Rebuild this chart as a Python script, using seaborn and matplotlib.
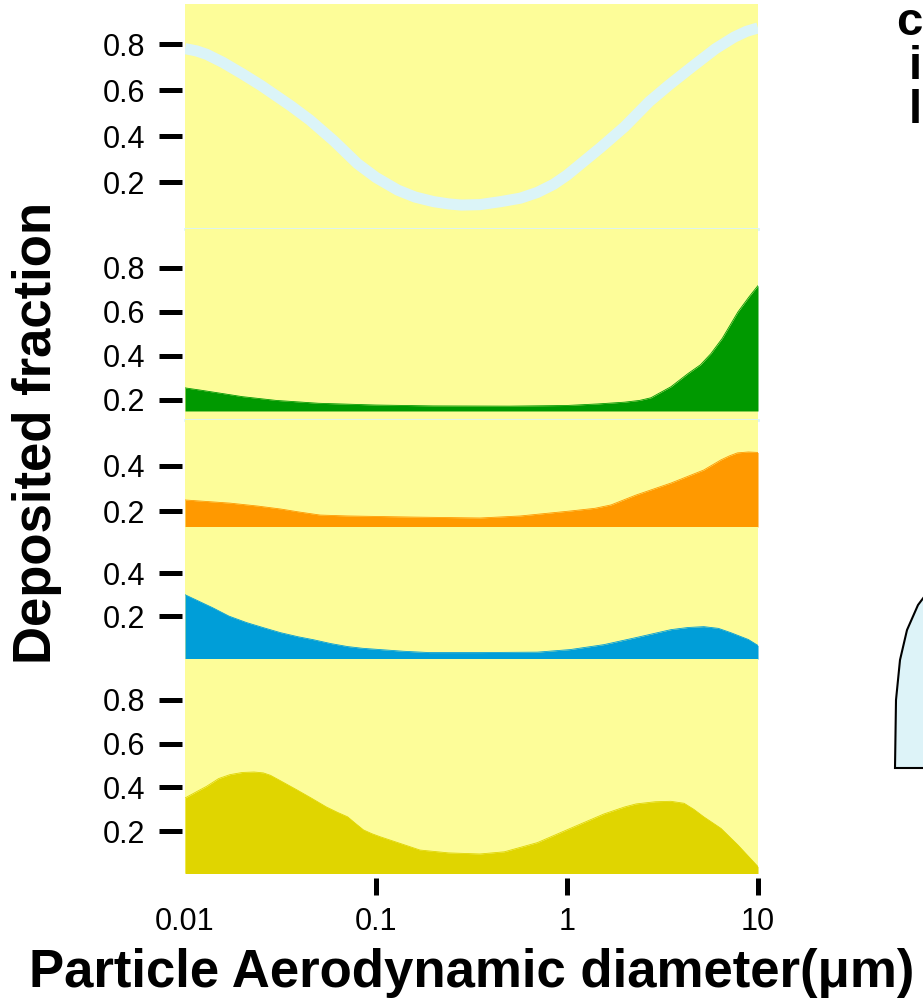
import matplotlib
matplotlib.use('Agg')
import matplotlib.pyplot as plt
import seaborn as sns
import pandas as pd
from matplotlib.patches import PathPatch
from matplotlib.path import Path

# ---- data (diameter in um, deposited fraction) ----
total_d = [0.01, 0.0115, 0.013, 0.0158, 0.02, 0.025, 0.03, 0.036, 0.045, 0.06, 0.08, 0.1,
           0.13, 0.16, 0.2, 0.24, 0.28, 0.35, 0.45, 0.57, 0.7, 0.85, 1.0, 1.5, 2.0, 2.7,
           3.4, 4.5, 6.0, 7.5, 8.7, 10]
total_f = [0.78, 0.77, 0.755, 0.72, 0.67, 0.62, 0.575, 0.53, 0.47, 0.38, 0.28, 0.22,
           0.165, 0.135, 0.115, 0.105, 0.10, 0.102, 0.115, 0.13, 0.155, 0.19, 0.23, 0.35, 0.44, 0.55,
           0.62, 0.70, 0.78, 0.83, 0.855, 0.87]

green_d = [0.01, 0.012, 0.015, 0.02, 0.03, 0.05, 0.1, 0.2, 0.5, 1.0, 1.45, 2.0, 2.4, 2.75,
           3.1, 3.5, 4.3, 5.0, 5.66, 6.5, 7.85, 9.0, 10]
green_f = [0.255, 0.245, 0.232, 0.215, 0.198, 0.185, 0.177, 0.173, 0.172, 0.175, 0.182, 0.19,
           0.198, 0.21, 0.235, 0.26, 0.32, 0.36, 0.41, 0.48, 0.60, 0.67, 0.72]

orange_d = [0.01, 0.0172, 0.024, 0.0316, 0.04, 0.051, 0.071, 0.157, 0.35, 0.57, 1.04, 1.4,
            1.7, 2.3, 3.5, 5.2, 6.4, 7.1, 7.8, 8.9, 10]
orange_f = [0.249, 0.235, 0.222, 0.209, 0.195, 0.182, 0.178, 0.173, 0.169, 0.178, 0.20, 0.212,
            0.227, 0.271, 0.324, 0.382, 0.427, 0.445, 0.458, 0.462, 0.46]

blue_d = [0.01, 0.0139, 0.017, 0.021, 0.026, 0.0316, 0.039, 0.047, 0.058, 0.071, 0.085,
          0.105, 0.14, 0.19, 0.35, 0.7, 1.04, 1.56, 2.3, 3.5, 4.3, 5.2, 6.2, 7.2, 8.9, 10]
blue_f = [0.30, 0.24, 0.20, 0.17, 0.145, 0.123, 0.104, 0.09, 0.072, 0.058, 0.05,
          0.044, 0.036, 0.03, 0.03, 0.032, 0.044, 0.067, 0.10, 0.137, 0.147, 0.151, 0.143, 0.123,
          0.091, 0.063]

olive_d = [0.01, 0.0115, 0.013, 0.015, 0.0172, 0.02, 0.023, 0.0257, 0.028, 0.0316, 0.0386,
           0.046, 0.055, 0.063, 0.071, 0.078, 0.086, 0.095, 0.105, 0.13, 0.17, 0.24, 0.35, 0.47,
           0.7, 1.04, 1.56, 2.0, 2.3, 2.9, 3.5, 4.1, 4.6, 5.2, 6.4, 7.85, 10]
olive_f = [0.351, 0.38, 0.405, 0.44, 0.458, 0.468, 0.47, 0.466, 0.455, 0.43, 0.388,
           0.35, 0.31, 0.285, 0.265, 0.235, 0.205, 0.188, 0.174, 0.147, 0.113, 0.10, 0.095, 0.105,
           0.147, 0.212, 0.278, 0.31, 0.324, 0.334, 0.336, 0.327, 0.30, 0.265, 0.212, 0.136, 0.037]

x_ticks = [0.01, 0.1, 1, 10]
x_ticklabels = ['0.01', '0.1', '1', '10']

YELLOW = '#fdfd99'
PALE = '#dbf4f8'

sns.set_theme(style='white')
plt.rcParams['font.family'] = ['Liberation Sans', 'DejaVu Sans']
plt.rcParams['text.color'] = 'black'
plt.rcParams['axes.labelcolor'] = 'black'

W, H = 923, 1005
fig = plt.figure(figsize=(W / 100, H / 100), dpi=100)


def px_axes(top, bottom, left=185, right=758):
    return fig.add_axes([left / W, 1 - bottom / H, (right - left) / W, (bottom - top) / H])


# top, bottom (px), ylim, ticks, fill base, colour, data, divider below
panels = [
    (4, 229, (-0.004, 0.974), [0.2, 0.4, 0.6, 0.8], None, PALE, total_d, total_f, True),
    (229, 420, (0.109, 0.977), [0.2, 0.4, 0.6, 0.8], 0.15, '#009900', green_d, green_f, True),
    (420, 527, (0.129, 0.604), [0.2, 0.4], 0.129, '#ff9900', orange_d, orange_f, False),
    (527, 659, (0.0, 0.616), [0.2, 0.4], 0.0, '#009ed8', blue_d, blue_f, False),
    (659, 873, (0.008, 0.987), [0.2, 0.4, 0.6, 0.8], 0.0, '#e0d500', olive_d, olive_f, False),
]

axes = []
for top, bot, ylim, yt, base, col, d, f, divider in panels:
    ax = px_axes(top, bot)
    ax.set_facecolor(YELLOW)
    ax.set_xscale('log')
    df = pd.DataFrame({'d': d, 'f': f})
    if base is None:
        sns.lineplot(data=df, x='d', y='f', ax=ax, color=col, lw=8, solid_capstyle='butt')
    else:
        ax.fill_between(df['d'], df['f'], base, color=col, lw=0)
        sns.lineplot(data=df, x='d', y='f', ax=ax, color=col, lw=0.6)
    ax.set_xlim(0.01, 10)
    ax.set_ylim(*ylim)
    ax.set_yticks(yt)
    ax.set_yticklabels(['%.1f' % v for v in yt])
    ax.set_xlabel('')
    ax.set_ylabel('')
    for s in ['top', 'right']:
        ax.spines[s].set_visible(False)
    ax.spines['left'].set_visible(False)
    ax.spines['left'].set_position(('outward', 2.2))
    if divider:
        ax.spines['bottom'].set_visible(True)
        ax.spines['bottom'].set_color(PALE)
        ax.spines['bottom'].set_linewidth(2)
    else:
        ax.spines['bottom'].set_visible(False)
    ax.tick_params(axis='y', left=True, length=16.5, width=3.6, pad=10, labelsize=22,
                   color='black', labelcolor='black')
    ax.tick_params(axis='x', which='both', bottom=False, labelbottom=False)
    axes.append(ax)

# bottom x axis
axb = axes[-1]
axb.spines['bottom'].set_position(('outward', 3.6))
axb.set_xticks(x_ticks)
axb.set_xticklabels(x_ticklabels)
axb.tick_params(axis='x', which='major', bottom=True, labelbottom=True, length=12,
                width=3.6, pad=9, labelsize=22, color='black', labelcolor='black')
axb.tick_params(axis='x', which='minor', bottom=False)
axb.xaxis.get_major_ticks()[0].tick1line.set_visible(False)
axb.set_xlabel('Particle Aerodynamic diameter(\u03bcm)', fontsize=38, fontweight='bold',
               labelpad=8, color='black')

fig.text(37 / W, 1 - 433 / H, 'Deposited fraction', rotation=90, fontsize=38,
         fontweight='bold', ha='center', va='center', color='black')

# pieces of the neighbouring panel on the right edge (one text block)
fig.text(922 / W, 1 - 1 / H, 'c\ni\nl', fontsize=34, fontweight='bold', ha='right',
         va='top', multialignment='right', linespacing=1.0, color='black')

shape = [(927, 593), (918, 605), (907, 630), (900, 660), (896, 700), (895, 768), (927, 768)]
verts = [(x / W, 1 - y / H) for x, y in shape]
patch = PathPatch(Path(verts), facecolor='#ddf3f8', edgecolor='black', lw=1.5,
                  transform=fig.transFigure, clip_on=False)
fig.patches.append(patch)

fig.savefig('out.png', dpi=100)
